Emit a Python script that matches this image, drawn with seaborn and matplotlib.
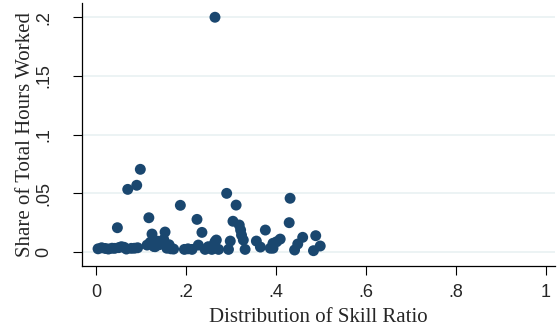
import matplotlib
matplotlib.use("Agg")
import matplotlib.pyplot as plt
import seaborn as sns
import pandas as pd

# Skill ratio of each group and its share of total hours worked
skill_ratio = [
    0.004, 0.012, 0.020, 0.027, 0.035, 0.041, 0.047, 0.050, 0.056, 0.062,
    0.067, 0.070, 0.078, 0.085, 0.090, 0.092, 0.098,
    0.113, 0.117, 0.120, 0.124, 0.128, 0.131, 0.136, 0.140, 0.146, 0.150,
    0.153, 0.157, 0.162, 0.166, 0.172, 0.187, 0.196,
    0.204, 0.213, 0.224, 0.227, 0.235, 0.242, 0.249, 0.257, 0.261, 0.264,
    0.264, 0.267, 0.272, 0.290, 0.294, 0.298, 0.304, 0.311, 0.318, 0.321,
    0.323, 0.327, 0.331,
    0.356, 0.365, 0.376, 0.387, 0.393, 0.393, 0.401, 0.409, 0.429, 0.431,
    0.441, 0.448, 0.459, 0.483, 0.488, 0.498,
]
hours_share = [
    0.0025, 0.0034, 0.0028, 0.0023, 0.0030, 0.0029, 0.0205, 0.0035, 0.0043, 0.0038,
    0.0023, 0.0532, 0.0029, 0.0030, 0.0567, 0.0034, 0.0703,
    0.0057, 0.0290, 0.0080, 0.0151, 0.0045, 0.0043, 0.0090, 0.0060, 0.0072, 0.0105,
    0.0168, 0.0030, 0.0060, 0.0025, 0.0023, 0.0396, 0.0020,
    0.0025, 0.0020, 0.0276, 0.0057, 0.0165, 0.0020, 0.0043, 0.0020, 0.0057, 0.0085,
    0.2000, 0.0100, 0.0020, 0.0498, 0.0020, 0.0091, 0.0260, 0.0398, 0.0228, 0.0185,
    0.0142, 0.0100, 0.0020,
    0.0091, 0.0040, 0.0185, 0.0030, 0.0072, 0.0030, 0.0085, 0.0108, 0.0248, 0.0456,
    0.0015, 0.0066, 0.0123, 0.0009, 0.0137, 0.0049,
]

x_ticks = [0, 0.2, 0.4, 0.6, 0.8, 1.0]
x_tick_labels = ["0", ".2", ".4", ".6", ".8", "1"]
y_ticks = [0, 0.05, 0.10, 0.15, 0.20]
y_tick_labels = ["0", ".05", ".1", ".15", ".2"]

df = pd.DataFrame({"skill": skill_ratio, "share": hours_share})

sns.set_style("white")
plt.rcParams["font.family"] = ["Liberation Sans", "DejaVu Sans"]

fig = plt.figure(figsize=(5.57, 3.30), dpi=100)
ax = fig.add_axes([82.3 / 557, 64.3 / 330, (555 - 82.3) / 557, 262.4 / 330])

for yt in y_ticks:
    ax.axhline(yt, color="#eaf2f3", lw=1.3, zorder=0)

sns.scatterplot(data=df, x="skill", y="share", ax=ax, color="#1a476f",
                s=62, edgecolor="none", linewidth=0, zorder=3)

ax.set_xlim(-0.031, 1.02)
ax.set_ylim(-0.0119, 0.2119)
ax.set_xticks(x_ticks)
ax.set_xticklabels(x_tick_labels)
ax.set_yticks(y_ticks)
ax.set_yticklabels(y_tick_labels, rotation=90, va="center")

for side in ("top", "right"):
    ax.spines[side].set_visible(False)
for side in ("left", "bottom"):
    ax.spines[side].set_color("black")
    ax.spines[side].set_linewidth(0.9)

ax.tick_params(axis="x", direction="out", length=6.5, width=0.8, color="black",
               labelsize=13, pad=7, bottom=True)
ax.tick_params(axis="y", direction="out", length=6.5, width=0.8, color="black",
               labelsize=13, pad=15, left=True)

ax.set_xlabel("Distribution of Skill Ratio", family="Liberation Serif",
              fontsize=15, labelpad=5)
ax.set_ylabel("Share of Total Hours Worked", family="Liberation Serif",
              fontsize=15, labelpad=0)

fig.savefig("out.png", dpi=100)
